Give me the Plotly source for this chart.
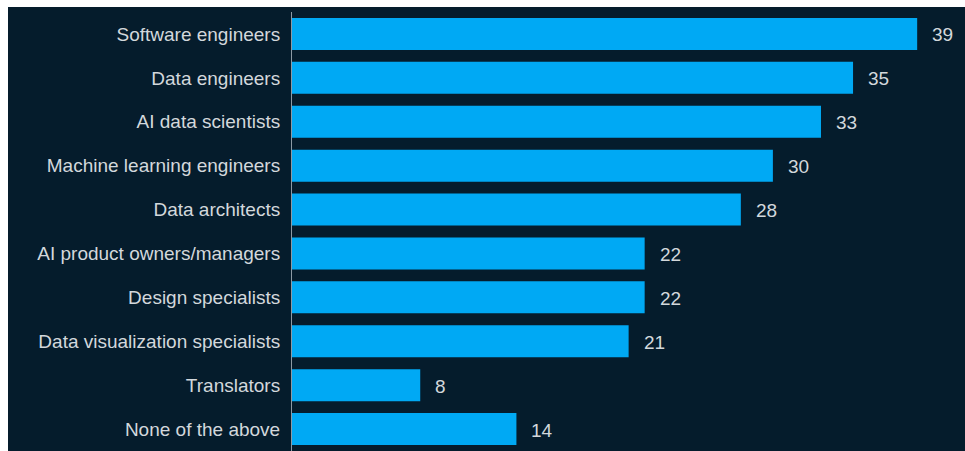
import plotly.graph_objects as go

# Share of respondents hiring each role (%)
roles = [
    "Software engineers",
    "Data engineers",
    "AI data scientists",
    "Machine learning engineers",
    "Data architects",
    "AI product owners/managers",
    "Design specialists",
    "Data visualization specialists",
    "Translators",
    "None of the above",
]
shares = [39, 35, 33, 30, 28, 22, 22, 21, 8, 14]

BG = "#051c2c"
BAR = "#00a9f4"
TEXT = "#d3d8dc"
FONT = "Liberation Sans, Arial, sans-serif"
FSIZE = 19

W, H = 965, 451
L, R, T, B = 292, 0, 12, 0
plot_w = W - L - R
plot_h = H - T - B
px_per_unit = 16.03

fig = go.Figure(
    go.Bar(
        x=shares,
        y=roles,
        orientation="h",
        marker=dict(color=BAR, line=dict(width=0)),
        hoverinfo="skip",
    )
)

for role, v in zip(roles, shares):
    fig.add_annotation(
        x=v, y=role, text=str(v), showarrow=False,
        xanchor="left", yanchor="middle", xshift=13, yshift=-1,
        font=dict(family=FONT, size=FSIZE, color=TEXT),
    )

# dark panel behind the chart, leaving a thin white border top and left
fig.add_shape(
    type="rect", xref="paper", yref="paper", layer="below",
    x0=(8 - L) / plot_w, x1=1.0,
    y0=0, y1=1 + (T - 7) / plot_h,
    fillcolor=BG, line=dict(width=0),
)

fig.update_layout(
    width=W, height=H,
    margin=dict(l=L, r=R, t=T, b=B, pad=0),
    paper_bgcolor="white",
    plot_bgcolor="rgba(0,0,0,0)",
    bargap=0.27,
    showlegend=False,
    font=dict(family=FONT, size=FSIZE, color=TEXT),
)
fig.update_xaxes(
    range=[0, plot_w / px_per_unit],
    visible=False, fixedrange=True,
)
fig.update_yaxes(
    categoryorder="array", categoryarray=roles[::-1],
    showgrid=False, zeroline=False,
    showline=True, linecolor="#8d9aa5", linewidth=1,
    ticks="", ticklabelstandoff=7,
    tickfont=dict(family=FONT, size=FSIZE, color=TEXT),
    fixedrange=True,
)

fig.write_html("out.html", config={"displayModeBar": False})
